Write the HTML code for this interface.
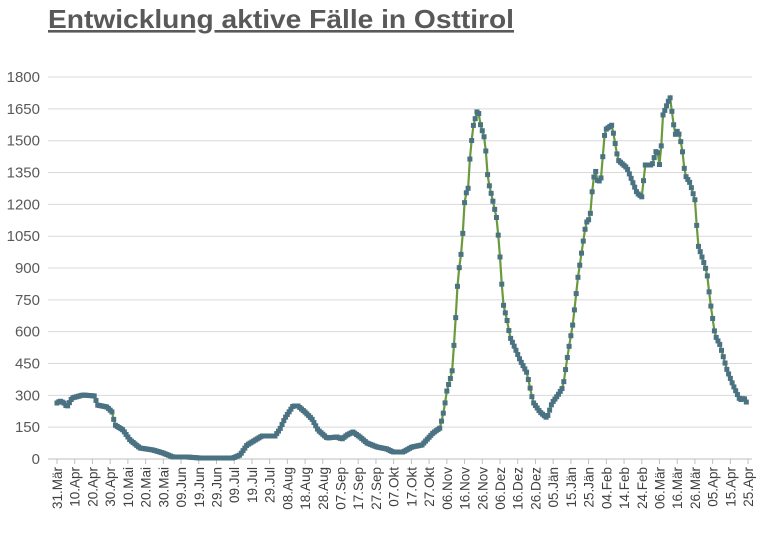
<!DOCTYPE html>
<html><head><meta charset="utf-8"><style>
body{margin:0;background:#fff;width:768px;height:528px;overflow:hidden}
</style></head><body>
<svg id="s" width="768" height="528" xmlns="http://www.w3.org/2000/svg" font-family="Liberation Sans, sans-serif">
<text x="48" y="28" font-size="26" font-weight="bold" fill="#595959" textLength="466" lengthAdjust="spacingAndGlyphs" text-decoration="underline">Entwicklung aktive Fälle in Osttirol</text>
<g id="grid"></g><g id="lab"></g><g id="ser"></g>
</svg>
<script>
var ns="http://www.w3.org/2000/svg";
function el(t,a,p,txt){var e=document.createElementNS(ns,t);for(var k in a)e.setAttribute(k,a[k]);if(txt)e.textContent=txt;document.getElementById(p).appendChild(e);return e;}
for(var i=0;i<=12;i++){var y=459-i*31.83;
 if(i>0)el('line',{x1:48,x2:752,y1:y,y2:y,stroke:'#d9d9d9','stroke-width':1},'grid');
 el('text',{x:40,y:y+5,'font-size':15,fill:'#595959','text-anchor':'end'},'lab',String(i*150));}
el('line',{x1:48,x2:752,y1:459,y2:459,stroke:'#bfbfbf','stroke-width':1},'grid');
var L="31.Mär 10.Apr 20.Apr 30.Apr 10.Mai 20.Mai 30.Mai 09.Jun 19.Jun 29.Jun 09.Jul 19.Jul 29.Jul 08.Aug 18.Aug 28.Aug 07.Sep 17.Sep 27.Sep 07.Okt 17.Okt 27.Okt 06.Nov 16.Nov 26.Nov 06.Dez 16.Dez 26.Dez 05.Jän 15.Jän 25.Jän 04.Feb 14.Feb 24.Feb 06.Mär 16.Mär 26.Mär 05.Apr 15.Apr 25.Apr".split(' ');
for(var i=0;i<L.length;i++){var x=57+i*17.72;
 el('line',{x1:x,x2:x,y1:459,y2:464,stroke:'#bfbfbf'},'grid');
 el('text',{transform:'translate('+(x+5)+',467) rotate(-90)','font-size':13.5,fill:'#404040','text-anchor':'end'},'lab',L[i]);}
var P=[[57,403],[60,401],[64,403],[67,407],[72,398],[83,395],[95,396],[97,405],[107,407],[112,412],[115,425],[123,430],[130,440],[140,448],[153,450],[163,453],[173,457],[187,457],[200,458],[233,458],[240,455],[247,445],[262,436],[275,436],[280,429],[285,418],[293,406],[298,406],[305,412],[312,419],[318,430],[327,438],[337,437],[342,439],[347,435],[353,432],[360,437],[367,443],[377,447],[387,449],[393,452],[403,452],[412,447],[422,445],[433,433],[440,428],[444,410],[447,390],[452,373],[455,330],[458,277],[462,247],[465,195],[468,190],[470,157],[473,127],[478,108],[480,123],[485,140],[488,180],[492,197],[497,220],[500,257],[503,303],[507,320],[510,337],[515,348],[520,360],[527,373],[533,402],[540,412],[547,418],[552,403],[558,395],[563,387],[568,353],[573,323],[578,277],[583,243],[586,223],[590,218],[592,193],[595,168],[598,183],[601,178],[605,130],[612,125],[618,160],[627,168],[637,193],[642,197],[645,165],[652,165],[657,148],[660,168],[663,115],[670,97],[675,135],[678,130],[682,147],[685,175],[690,183],[695,200],[698,245],[703,260],[707,273],[710,300],[715,335],[720,345],[727,370],[733,385],[740,400],[744,398],[748,405]];
var pts=[];for(var x=57;x<=748;x+=1.772){for(var j=0;j<P.length-1;j++)if(x>=P[j][0]&&x<=P[j+1][0]){var t=(x-P[j][0])/(P[j+1][0]-P[j][0]);pts.push([x,P[j][1]+t*(P[j+1][1]-P[j][1])]);break;}}
el('polyline',{points:pts.map(function(p){return p.join(',')}).join(' '),fill:'none',stroke:'#6b9a3a','stroke-width':2.2},'ser');
pts.forEach(function(p){el('rect',{x:p[0]-2.5,y:p[1]-2.5,width:5,height:5,fill:'#4a7282'},'ser');});
</script>
</body></html>
